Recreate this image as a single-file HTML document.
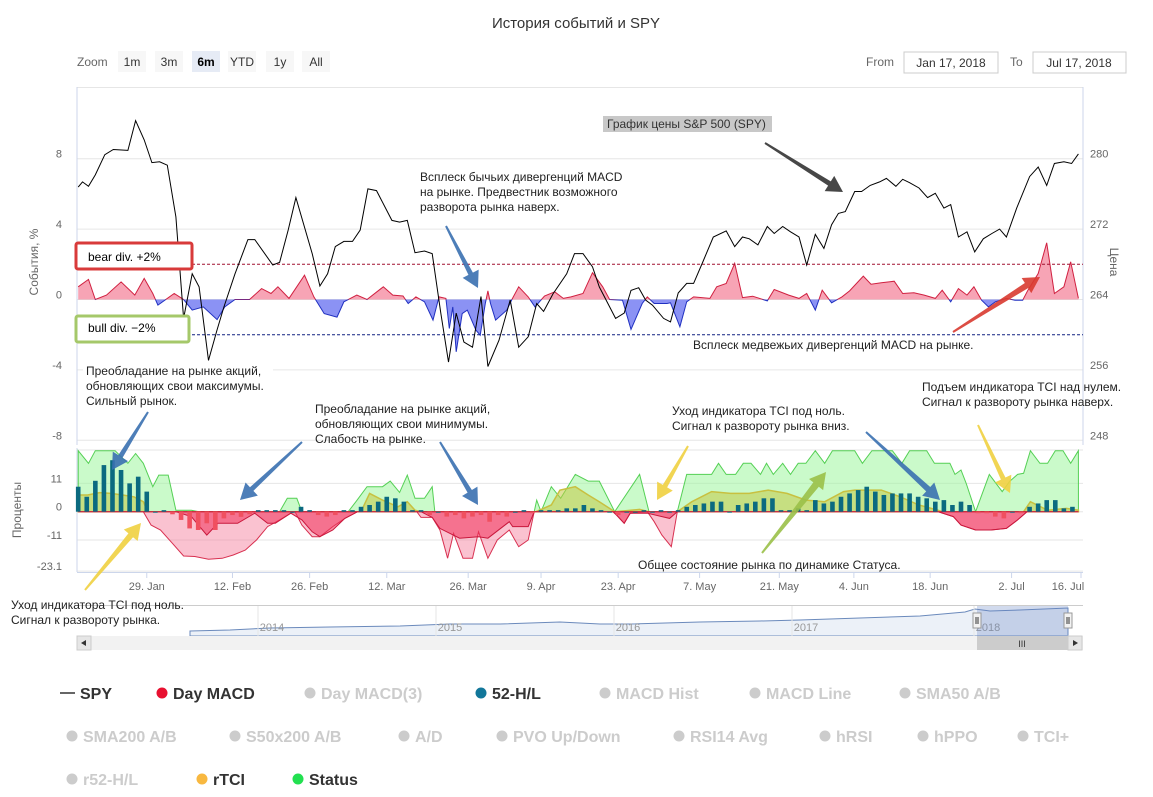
<!DOCTYPE html>
<html><head><meta charset="utf-8"><style>
html,body{margin:0;padding:0;background:#fff;width:1153px;height:797px;overflow:hidden}
svg{display:block;font-family:"Liberation Sans","DejaVu Sans",sans-serif}
</style></head><body>
<svg id="c" width="1153" height="797" viewBox="0 0 1153 797"></svg>
<script>
// ---- data ----
const priceDays=[0,0.5,1.2,2,3.1,4.1,5.8,6.7,7.7,8.6,9.5,10.4,11.4,12.3,13.3,14.1,15.2,16.2,17,18.3,19.8,20.6,22.7,23.5,24.5,25.4,27.3,28.2,29.1,30,31,32,32.9,33.8,34.8,36.6,37.5,38.4,39.3,40.4,41.3,42.3,43.2,44.1,45,46,47,47.8,49.1,50.4,51.4,52.5,53.5,54.3,55.4,57,57.9,58.9,60,60.8,62.7,63.7,64.5,65.4,66.2,67,68.3,69.1,70,71,71.8,72.9,74.1,75.6,76.6,77.5,78.3,79.3,80.4,81.2,82.2,83.1,84.1,85,86,87,87.9,88.7,89.5,90.6,91.4,92.4,93.5,94.3,95.4,96.2,97,98.1,99.1,100,101,101.8,102.7,103.7,104.6,105.6,106.6,107.5,108.3,109.5,111,112,113,113.9,115,115.9,116.7];
const priceVals=[276.1,276.7,276.2,277.5,279.8,280.4,280.3,283.7,281.5,278.9,279,278.6,272.7,261.1,266.2,264.7,256.3,259.8,262.4,266.2,270.1,270.1,267.2,267.5,271.2,274.9,268.5,264.8,266.2,269.3,269.9,269.9,271.2,275.9,275.7,272.3,272.1,272.3,268.6,268.8,268.5,261.7,256.1,261.7,258.4,257.8,263.6,255.6,258.6,263.2,257.8,259,262.8,261.9,263.9,266.2,268.5,268.5,267,264.7,261.1,261.7,264.3,264.6,263.2,262.6,261.1,260.7,264,265.1,265.1,267.6,270.4,271.1,269.3,270.4,270.2,269.5,271.6,270.8,271.6,271,270.4,267.2,270.7,269.1,271.8,273.1,273.3,275.6,275.6,276.3,276.7,277.1,276.2,277,276.6,276,274.9,275.4,273.7,274.1,270.4,271,268.7,270.2,270.8,271.3,270.4,273.7,277.3,278.4,276.3,278.8,279,278.8,279.9];
const macdDays=[0,1.2,2,3.3,5,6.6,7.7,8.7,9.3,11.2,12.3,13.3,14.6,16.2,17.1,18.3,20,21.4,22.5,23.3,24.6,26.4,27.5,28.7,30.2,31,32.5,33.7,35.6,36.7,37.9,38.5,39.4,40.4,41.4,42.1,42.9,43.3,43.7,44.1,44.8,45.4,46.4,46.9,47.5,47.8,48.1,48.7,50,50.6,51.4,52.5,53.3,54.4,55.6,56.6,57.5,58.9,60,61.2,62,63.5,64.5,65.8,66.4,67.2,68.7,69.1,70.2,71,71.8,73.7,74.5,75.6,76.6,77.5,78.7,80.4,81.2,82.9,84.1,85,86,86.8,87.9,89.1,90,91.6,92.5,93.7,95.2,96.2,97.5,98.7,100,100.8,101.8,102.7,103.7,104.5,105.4,106.2,107,108.3,109.3,110.2,110.8,112,113,113.9,115,115.8,116.7];
const macdVals=[0.72,1.14,0,0.25,1,0.25,1.2,0.34,-0.32,0.34,0,-0.6,-0.42,-1.14,-0.42,0,0,0.62,0.34,0.72,0.06,1.38,0.15,-0.8,-1,-0.13,0.25,0,0.72,0.25,0.2,-0.23,0.15,-0.13,-1.17,0.15,0.06,-1.65,-0.42,-2.97,-0.8,-0.6,-1.74,-2.03,-0.23,0.49,-0.23,-1.17,-0.6,0,0.72,0.15,-0.42,0.2,0.44,0.06,0.15,0.34,1.52,0.72,0,-0.04,-1.7,-0.23,0.15,-0.23,-0.23,-0.19,-1.55,-0.13,0.15,0.06,0.72,0.91,2.05,0.11,0.19,-0.08,0.57,0.25,0.06,0.34,-0.6,0.53,-0.19,0.15,0.49,1.33,0.87,0.95,1.04,0.34,0.38,0.25,0.06,0.53,-0.13,0.62,0.25,0.72,-0.04,-0.42,-0.13,0.06,-0.04,-0.04,0.53,1.48,3.22,0.34,0.72,2.14,0.06];
const statusDays=[0,1.2,2,4.3,5.2,5.8,6.7,7.6,8.7,9.4,10.5,11.4,13.2,14.1,23.5,24.4,25.5,26.1,31.5,32.4,33.7,35.5,36.4,37.5,38.4,39.3,40.4,41.3,41.6,53.2,53.5,54,55.2,56.3,58,59.5,60.8,62.6,65.5,66.6,69.9,71,73.9,74.7,75.6,76.7,77.6,78.5,79.6,80.3,81.1,82.2,83.1,84,84.9,86,87.1,88,90.6,91.5,92.6,95,96.1,97,99,99.9,101.7,102.3,103,103.6,104.7,106.3,107.8,108.7,109.6,110.3,111.1,112.2,113.1,114,114.9,115.8,116.7];
const statusVals=[23.7,18.8,23.7,23.7,20.7,18.8,22.6,18.8,9.7,14.2,14.2,0.6,0.6,0,0,5.2,5.2,0,0,3.9,9.7,9.7,11.9,7.5,14.2,5.2,5.2,9.7,0,0,4.5,0,9.7,5.2,14.5,11.9,11.9,0,14.5,0,0,14.5,14.5,18.8,14.5,14.5,18.8,18.8,14.5,18.8,14.5,18.8,14.5,18.8,18.8,23.7,18.8,23.7,23.7,18.8,23.7,23.7,18.8,23.7,23.7,18.8,18.8,14.5,16.2,11,0,14.5,7.8,11.9,14.5,14.9,23.7,18.8,18.8,23.7,23.7,18.8,23.7];
const rtciDays=[0,1.1,2.5,3.8,5.2,6.5,7.6,8.1,33,34,35.5,37.3,38.4,39.3,40,53.4,55.2,56.2,58,59.5,60.8,62.6,65.5,66.6,69.9,71.6,73.9,76.1,78.3,80.5,82.7,84.9,87.1,89.3,90.6,93.7,95.9,98.1,100.3,100.8,110.3,111.1,113.1,115.3,116.7];
const rtciVals=[6.5,6.5,7.4,7.1,6.5,5.8,3.9,0,0,7.1,4.5,1.9,3.9,0.6,0,0,2.6,8.4,9.7,6.5,3.9,0,0.9,0,0,3.9,7.8,7.1,7.1,8.4,7.1,4.5,3.9,7.8,8.4,8.4,5.8,2.6,0.6,0,0,3.9,0.6,1.3,0.6];
const tciNegDays=[0,7.6,8.5,9.6,11,12.3,13.6,15.2,16.8,18.1,19.5,20.8,22.1,23.5,24.8,25.3,26.1,27.3,28.2,29.7,31.1,32.6,39.5,40,41.3,42.2,43.1,43.8,44.9,46,46.7,47.8,48.9,50.3,51.4,52.5,53.2,62.4,62.8,63.7,64.4,66.4,67.2,68.1,69.2,69.9,100.3,102.1,103,104.7,106.5,108.3,109.6,110.7,116.7];
const tciNegVals=[0,0,-5.2,-7.1,-12.3,-17.2,-17.4,-18.5,-18.1,-16.8,-14.9,-11,-5.8,-3.2,-0.6,0,-5.2,-9.7,-9.7,-5.8,-2.6,0,0,-2.2,-2.2,-7.1,-18.1,-8.4,-18.1,-18.1,-7.8,-18.1,-11,-7.1,-13.6,-11,0,0,-1.3,-4.5,-0.6,0,-3.9,-9.1,-13.6,0,0,-1.9,-5.2,-7.1,-7.1,-6.5,-3.2,0,0];
const rtciNegDays=[0,11.4,13.2,15,16.3,18.6,20.6,22.1,23,24.8,26.1,27.3,28.2,29.7,31.1,32.6,40,41.3,42.2,44.5,46.7,47.8,50.3,50.7,52.5,53.2,62.4,62.8,63.7,64.4,66.4,69,69.9,100.3,102.1,103,104.7,106.5,108.3,109.6,110.7,116.7];
const rtciNegVals=[0,0,-1.9,-9.1,-4.5,-4.5,-0.6,-4.5,-4.5,-0.6,-3.2,-7.8,-9.7,-7.1,-2.6,0,0,-2.2,-6.5,-10.3,-9.7,-10.3,-3.9,-5.8,-5.8,0,0,-1.3,-4.5,-0.6,-0.6,-2.6,0,0,-1.9,-5.2,-7.1,-7.1,-6.5,-3.2,0,0];
const hlVals=[9.7,5.8,12,18.1,20,16.2,11,13.6,7.8,0,0.6,-1,-3.2,-6.5,-7.1,-4.5,-7.1,-2.6,-1.3,-2,-1,0.6,0.6,0.6,0.6,0,1.9,0.6,-1.3,-1.9,-1.3,0.6,0.6,1.9,2.6,3.9,5.8,5.2,3.9,0.6,0.6,-1.3,0,-1.9,-1.3,-2.6,-1.9,-1.3,-3.9,-1.3,-1.9,0,0.6,-0.6,0.6,0.6,0.6,1.3,1.3,2.6,1.3,0.6,0,-1.3,0,0,0.6,0,0.6,0,0.6,1.9,2.6,3.2,3.9,3.9,0,2.6,3.2,3.9,5.2,5.2,0.6,0.6,1.3,0.6,4.5,3.2,3.9,5.8,7.1,8.4,9.7,7.8,6.5,7.1,7.1,7.1,5.8,5.2,3.9,4.5,2.6,3.9,2.6,-0.6,-0.6,-1.9,-2.6,0,-0.6,1.9,3.2,4.5,4.5,1.3,1.9];
const xTickLabels=["29. Jan","12. Feb","26. Feb","12. Mar","26. Mar","9. Apr","23. Apr","7. May","21. May","4. Jun","18. Jun","2. Jul","16. Jul"];
const xTickDays=[8,18,27,36,45.5,54,63,72.5,81.8,90.5,99.4,108.9,117];
const leftTicks=[8,4,0,-4,-8];
const rightTicks=[280,272,264,256,248];
const lowTicks=[11,0,-11,-23.1];

// ---- axes ----
const X0=78.2, XS=8.571;
const xD=d=>X0+XS*d;
const yL=v=>299.5-v*17.6;          // events %, top panel
const yP=p=>293-(p-264)*8.75;      // price
const yB=v=>511.7-v*2.575;         // bottom panel %

const NS="http://www.w3.org/2000/svg";
const svg=document.getElementById('c');
function el(tag,attrs,parent){const e=document.createElementNS(NS,tag);for(const k in attrs)e.setAttribute(k,attrs[k]);(parent||svg).appendChild(e);return e;}
function txt(x,y,s,attrs,parent){const t=el('text',Object.assign({x:x,y:y,'font-size':12,fill:'#333'},attrs||{}),parent);t.textContent=s;return t;}

const defs=el('defs',{});
let cp=el('clipPath',{id:'topPos'},defs);el('rect',{x:77,y:0,width:1006,height:yL(0)},cp);
cp=el('clipPath',{id:'topNeg'},defs);el('rect',{x:77,y:yL(0),width:1006,height:200},cp);
cp=el('clipPath',{id:'topPlot'},defs);el('rect',{x:77,y:88,width:1006,height:352},cp);

// title
let t=txt(576,28,"История событий и SPY",{'font-size':15,'text-anchor':'middle'});


// range selector
t=txt(77,66,"Zoom",{'font-size':12,fill:'#666'});

const btns=[["1m",118],["3m",155],["6m",192],["YTD",228],["1y",266],["All",302]];
btns.forEach(b=>{
  const g=el('g',{});
  
  
  el('rect',{x:b[1],y:51,width:28,height:21,fill:b[0]=="6m"?'#e6ebf5':'#f7f7f7'},g);
  txt(b[1]+14,66,b[0],{'text-anchor':'middle','font-weight':b[0]=="6m"?'bold':'normal',fill:b[0]=="6m"?'#000':'#333'},g);
});
t=txt(866,66,"From",{fill:'#666'});
let g=el('g',{});
el('rect',{x:904,y:52,width:94,height:21,fill:'#fff',stroke:'#ccc'},g);txt(951,67,"Jan 17, 2018",{'text-anchor':'middle'},g);
t=txt(1010,66,"To",{fill:'#666'});
g=el('g',{});
el('rect',{x:1033,y:52,width:93,height:21,fill:'#fff',stroke:'#ccc'},g);txt(1079,67,"Jul 17, 2018",{'text-anchor':'middle'},g);

// top panel frame & grid
el('line',{x1:77,y1:87.5,x2:1083,y2:87.5,stroke:'#e6e6e6'});
leftTicks.forEach(v=>{
  const y=yL(v);
  const l=el('line',{x1:77,y1:y,x2:1083,y2:y,stroke:'#e6e6e6'});
  
  const tt=txt(62,y-1,String(v),{'text-anchor':'end',fill:'#666','font-size':11});
  
});
rightTicks.forEach((p,i)=>{
  const tt=txt(1090,yL(leftTicks[i])-1,String(p),{fill:'#666','font-size':11});
  
});
el('line',{x1:77,y1:87,x2:77,y2:445,stroke:'#ccd6eb'});
el('line',{x1:1083,y1:87,x2:1083,y2:445,stroke:'#ccd6eb'});
t=txt(0,0,"События, %",{'font-size':12,fill:'#666','text-anchor':'middle',transform:'translate(38,262) rotate(-90)'});

t=txt(0,0,"Цена",{'font-size':12,fill:'#666','text-anchor':'middle',transform:'translate(1110,262) rotate(90)'});


// MACD areas
function areaPath(days,vals,yf,base){
  let d="M"+xD(days[0])+","+yf(base);
  for(let i=0;i<days.length;i++)d+=" L"+xD(days[i]).toFixed(1)+","+yf(vals[i]).toFixed(1);
  d+=" L"+xD(days[days.length-1])+","+yf(base)+" Z";return d;}
function linePath(days,vals,yf){let d="";for(let i=0;i<days.length;i++)d+=(i?" L":"M")+xD(days[i]).toFixed(1)+","+yf(vals[i]).toFixed(1);return d;}
let p=el('path',{d:areaPath(macdDays,macdVals,yL,0),fill:'rgba(240,90,120,0.55)','clip-path':'url(#topPos)'});

p=el('path',{d:areaPath(macdDays,macdVals,yL,0),fill:'rgba(90,100,240,0.7)','clip-path':'url(#topNeg)'});

p=el('path',{d:linePath(macdDays,macdVals,yL),fill:'none',stroke:'#d02040','stroke-width':1,'clip-path':'url(#topPos)'});
p=el('path',{d:linePath(macdDays,macdVals,yL),fill:'none',stroke:'#2030c0','stroke-width':1,'clip-path':'url(#topNeg)'});


// threshold lines
p=el('line',{x1:77,y1:yL(2),x2:1083,y2:yL(2),stroke:'#a01030','stroke-dasharray':'3,2'});

p=el('line',{x1:77,y1:yL(-2),x2:1083,y2:yL(-2),stroke:'#102080','stroke-dasharray':'3,2'});


// SPY price line
p=el('path',{d:linePath(priceDays,priceVals,yP),fill:'none',stroke:'#000','stroke-width':1,'clip-path':'url(#topPlot)'});


// bottom panel
lowTicks.forEach(v=>{
  const y=yB(v);
  const l=el('line',{x1:77,y1:y,x2:1083,y2:y,stroke:'#e6e6e6'});
  
  const tt=txt(62,y-1,String(v),{'text-anchor':'end',fill:'#666','font-size':11});
  
});
el('line',{x1:77,y1:450,x2:1083,y2:450,stroke:'#e6e6e6'});
el('line',{x1:77,y1:448,x2:77,y2:572,stroke:'#ccd6eb'});
t=txt(0,0,"Проценты",{'font-size':12,fill:'#666','text-anchor':'middle',transform:'translate(21,510) rotate(-90)'});


p=el('path',{d:areaPath(statusDays,statusVals,yB,0),fill:'rgba(150,245,150,0.5)',stroke:'#55d055','stroke-width':1});

p=el('path',{d:areaPath(rtciDays,rtciVals,yB,0),fill:'rgba(195,200,70,0.55)',stroke:'#c8c040','stroke-width':1.5});

p=el('path',{d:areaPath(tciNegDays,tciNegVals,yB,0),fill:'rgba(245,120,150,0.45)',stroke:'#d83050','stroke-width':1});

p=el('path',{d:areaPath(rtciNegDays,rtciNegVals,yB,0),fill:'rgba(240,50,90,0.55)',stroke:'#c8183c','stroke-width':1});

hlVals.forEach((v,i)=>{
  const y0=yB(0),y1=yB(v);
  const r=el('rect',{x:xD(i)-2.3,y:Math.min(y0,y1),width:4.6,height:Math.max(1,Math.abs(y1-y0)),fill:v>=0?'#0b6a80':'#f05060'});
  
  
});
el('line',{x1:77,y1:572.5,x2:1083,y2:572.5,stroke:'#ccd6eb'});
xTickLabels.forEach((s,i)=>{
  const x=xD(xTickDays[i]);
  el('line',{x1:x,y1:572,x2:x,y2:578,stroke:'#ccd6eb'});
  const tt=txt(Math.min(x,1068),590,s,{'text-anchor':'middle',fill:'#666','font-size':11});
  
});

// navigator
g=el('g',{});
el('line',{x1:77,y1:605.5,x2:1083,y2:605.5,stroke:'#ccc'},g);
el('path',{d:"M190,631 L230,630 L270,628 L330,627 L400,626 L450,624 L500,624 L560,622 L600,624 L630,624 L700,622 L760,621 L800,620 L860,618 L920,616 L965,612 L975,609 L990,611 L1020,610 L1068,608 L1068,636 L190,636 Z",fill:'rgba(200,215,235,0.35)',stroke:'#6b8abc','stroke-width':1},g);
[["2014",272],["2015",450],["2016",628],["2017",806],["2018",988]].forEach(a=>{el('line',{x1:a[1]-14,y1:606,x2:a[1]-14,y2:636,stroke:'#e6e6e6'},g);txt(a[1],631,a[0],{'text-anchor':'middle',fill:'#999','font-size':11},g);});
el('rect',{x:977,y:606,width:91,height:30,fill:'rgba(102,133,194,0.3)'},g);
[977,1068].forEach(x=>{el('rect',{x:x-4,y:613,width:8,height:15,fill:'#f2f2f2',stroke:'#999'},g);el('line',{x1:x-1,y1:617,x2:x-1,y2:624,stroke:'#333'},g);el('line',{x1:x+1,y1:617,x2:x+1,y2:624,stroke:'#333'},g);});
g=el('g',{});
el('rect',{x:77,y:636,width:1006,height:14,fill:'#f2f2f2'},g);
el('rect',{x:977,y:636,width:91,height:14,fill:'#ccc'},g);
el('rect',{x:77,y:636,width:14,height:14,fill:'#e6e6e6',stroke:'#ccc'},g);
el('rect',{x:1068,y:636,width:14,height:14,fill:'#e6e6e6',stroke:'#ccc'},g);
el('path',{d:"M86,640 L81,643 L86,646 Z",fill:'#333'},g);el('path',{d:"M1073,640 L1078,643 L1073,646 Z",fill:'#333'},g);
txt(1022,647,"III",{'text-anchor':'middle','font-size':9,fill:'#333'},g);

// annotations
function arrow(x1,y1,x2,y2,col,w,name){
  const gg=el('g',{});
  const dx=x2-x1,dy=y2-y1,L=Math.hypot(dx,dy),ux=dx/L,uy=dy/L,nx=-uy,ny=ux,h=16,hw=9;
  const bx=x2-ux*h,by=y2-uy*h;
  el('path',{d:`M${x1+nx*1},${y1+ny*1} L${bx+nx*w/2},${by+ny*w/2} L${bx+nx*hw},${by+ny*hw} L${x2},${y2} L${bx-nx*hw},${by-ny*hw} L${bx-nx*w/2},${by-ny*w/2} L${x1-nx*1},${y1-ny*1} Z`,fill:col,opacity:0.9},gg);
}
function note(x,y,lines,name,bg){
  const gg=el('g',{});
  if(bg){el('rect',{x:x-3,y:y-11,width:bg,height:lines.length*15+2,fill:'#fff'},gg);}
  lines.forEach((s,i)=>txt(x,y+i*15,s,{'font-size':12,fill:'#222'},gg));
}
g=el('g',{});
el('rect',{x:603,y:116,width:169,height:16,fill:'#c8c8c8'},g);txt(607,128,"График цены S&P 500 (SPY)",{'font-size':12,fill:'#333'},g);
arrow(765,143,843,192,'#333',5,'spy-price-arrow');
note(420,181,["Всплеск бычьих дивергенций MACD","на рынке. Предвестник возможного","разворота рынка наверх."],'bull-divergence-note');
arrow(446,226,478,288,'#3a70b0',5,'bull-divergence-arrow');
g=el('g',{});
el('rect',{x:76,y:243,width:116,height:26,fill:'#fff',stroke:'#d83a3a','stroke-width':3,rx:2},g);txt(88,261,"bear div. +2%",{'font-size':12,fill:'#000'},g);
g=el('g',{});
el('rect',{x:76,y:316,width:113,height:26,fill:'#fff',stroke:'#a5c86a','stroke-width':3,rx:2},g);txt(88,332,"bull div. \u22122%",{'font-size':12,fill:'#000'},g);
note(693,349,["Всплеск медвежьих дивергенций MACD на рынке."],'bear-divergence-note',282);
arrow(953,332,1040,277,'#d83a30',6,'bear-divergence-arrow');
note(86,375,["Преобладание на рынке акций,","обновляющих свои максимумы.","Сильный рынок."],'new-highs-note',190);
arrow(148,412,112,470,'#3a70b0',5,'new-highs-arrow');
note(315,413,["Преобладание на рынке акций,","обновляющих свои минимумы.","Слабость на рынке."],'new-lows-note');
arrow(302,442,240,500,'#3a70b0',5,'new-lows-arrow-1');
arrow(440,442,478,505,'#3a70b0',5,'new-lows-arrow-2');
note(672,415,["Уход индикатора TCI под ноль.","Сигнал к развороту рынка вниз."],'tci-below-zero-note');
arrow(688,446,657,500,'#f0d040',5,'tci-below-zero-arrow');
note(922,391,["Подъем индикатора TCI над нулем.","Сигнал к развороту рынка наверх."],'tci-above-zero-note');
arrow(978,425,1010,493,'#f0d040',5,'tci-above-zero-arrow');
arrow(866,432,940,500,'#3a70b0',6,'high-low-arrow');
arrow(762,553,826,472,'#9ac048',7,'status-arrow');
note(638,569,["Общее состояние рынка по динамике Статуса."],'status-note');
arrow(85,590,141,523,'#f0d040',6,'tci-first-arrow');
note(11,609,["Уход индикатора TCI под ноль.","Сигнал к развороту рынка."],'tci-first-note');

// legend
const legend=[
 ["SPY",60,693,'#333','line',true],["Day MACD",157,693,'#e81030','dot',true],["Day MACD(3)",305,693,'#ccc','dot',false],["52-H/L",476,693,'#12779a','dot',true],["MACD Hist",600,693,'#ccc','dot',false],["MACD Line",750,693,'#ccc','dot',false],["SMA50 A/B",900,693,'#ccc','dot',false],
 ["SMA200 A/B",67,736,'#ccc','dot',false],["S50x200 A/B",230,736,'#ccc','dot',false],["A/D",399,736,'#ccc','dot',false],["PVO Up/Down",497,736,'#ccc','dot',false],["RSI14 Avg",674,736,'#ccc','dot',false],["hRSI",820,736,'#ccc','dot',false],["hPPO",918,736,'#ccc','dot',false],["TCI+",1018,736,'#ccc','dot',false],
 ["r52-H/L",67,779,'#ccc','dot',false],["rTCI",197,779,'#f8b840','dot',true],["Status",293,779,'#22e050','dot',true]];
legend.forEach(L=>{
  const gg=el('g',{});
  
  
  if(L[4]=='line'){el('line',{x1:L[1],y1:L[2],x2:L[1]+15,y2:L[2],stroke:'#333','stroke-width':1.5},gg);}
  else el('circle',{cx:L[1]+5,cy:L[2],r:5.5,fill:L[3]},gg);
  txt(L[1]+(L[4]=='line'?20:16),L[2]+6,L[0],{'font-size':16,'font-weight':'bold',fill:L[5]?'#333':'#ccc'},gg);
});
</script>
</body></html>
